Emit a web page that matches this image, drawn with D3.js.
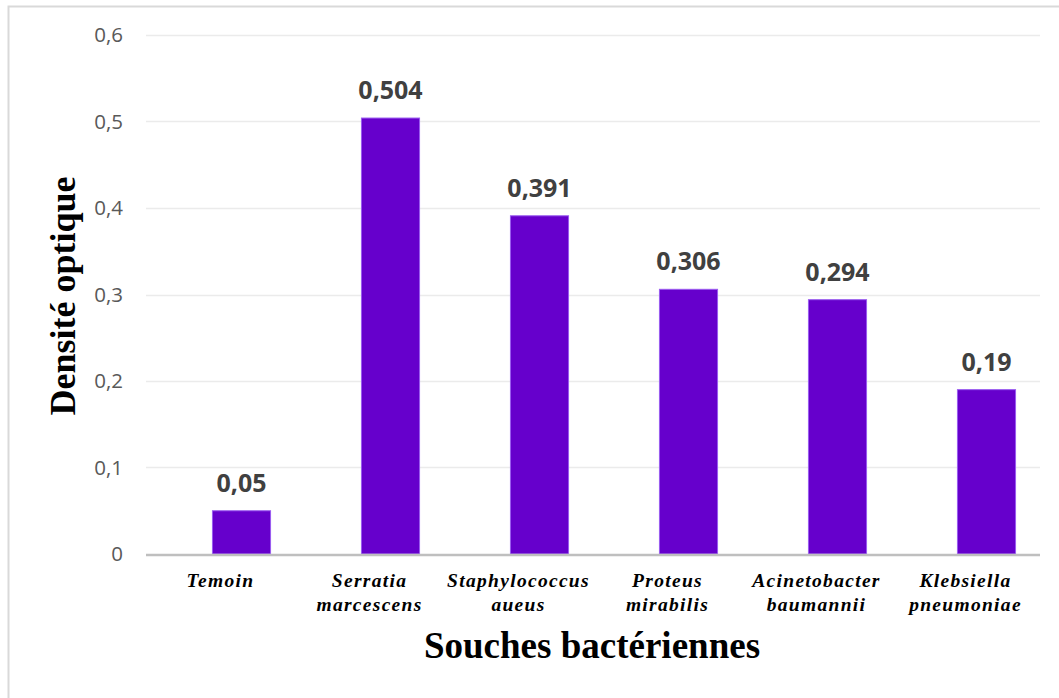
<!DOCTYPE html>
<html>
<head>
<meta charset="utf-8">
<script src="https://cdn.jsdelivr.net/npm/d3@7"></script>
<style>
    body { margin: 0; background: white; }
</style>
</head>
<body>
<div id="chart"></div>
<script>
const categories = [
    ["Temoin"],
    ["Serratia", "marcescens"],
    ["Staphylococcus", "aueus"],
    ["Proteus", "mirabilis"],
    ["Acinetobacter", "baumannii"],
    ["Klebsiella", "pneumoniae"]
];
const values = [0.05, 0.504, 0.391, 0.306, 0.294, 0.19];
const valueLabels = ["0,05", "0,504", "0,391", "0,306", "0,294", "0,19"];
const yTicks = [0, 0.1, 0.2, 0.3, 0.4, 0.5, 0.6];

const width = 1059, height = 698;
const plotLeft = 146, plotRight = 1040, plotTop = 35, plotBottom = 554;
const barShift = 21;

const svg = d3.select("#chart").append("svg")
    .attr("width", width)
    .attr("height", height);

// chart frame (only top/left edges fall inside the picture)
svg.append("rect")
    .attr("x", 8.5).attr("y", 6.5)
    .attr("width", width).attr("height", height)
    .attr("fill", "white")
    .attr("stroke", "#d9d9d9")
    .attr("stroke-width", 2);

// category bands along the axis
const x = d3.scaleBand()
    .domain(d3.range(categories.length))
    .range([plotLeft, plotRight])
    .paddingInner(0.61)
    .paddingOuter(0.305);

const y = d3.scaleLinear()
    .domain([0, 0.6])
    .range([plotBottom, plotTop]);

// gridlines
svg.append("g")
    .selectAll("line")
    .data(yTicks.filter(d => d > 0))
    .join("line")
    .attr("x1", plotLeft).attr("x2", plotRight)
    .attr("y1", d => Math.round(y(d)) + 0.5).attr("y2", d => Math.round(y(d)) + 0.5)
    .attr("stroke", "#ebebeb")
    .attr("stroke-width", 1.5);

// y axis labels
const yAxis = d3.axisLeft(y)
    .tickValues(yTicks)
    .tickSize(0)
    .tickPadding(23)
    .tickFormat(d => d === 0 ? "0" : d3.format(".1f")(d).replace(".", ","));

svg.append("g")
    .attr("transform", "translate(" + plotLeft + ",0)")
    .call(yAxis)
    .call(g => g.select(".domain").remove())
    .selectAll("text")
    .attr("font-family", "'Open Sans', sans-serif")
    .attr("font-size", "20.5px")
    .attr("fill", "#595959");

// bars (sit a little right of their category centre, as in the original)
svg.append("g")
    .selectAll("rect")
    .data(values)
    .join("rect")
    .attr("x", (d, i) => x(i) + barShift)
    .attr("y", d => y(d))
    .attr("width", x.bandwidth())
    .attr("height", d => y(0) - y(d))
    .attr("fill", "#6600cc")
    .attr("stroke", "#9a5cf0")
    .attr("stroke-width", 1);

// value labels
svg.append("g")
    .selectAll("text")
    .data(values)
    .join("text")
    .attr("x", (d, i) => x(i) + barShift + x.bandwidth() / 2)
    .attr("y", d => y(d) - 19)
    .attr("text-anchor", "middle")
    .attr("font-family", "'Open Sans', sans-serif")
    .attr("font-weight", "bold")
    .attr("font-size", "25px")
    .attr("fill", "#404040")
    .text((d, i) => valueLabels[i]);

// x axis line
svg.append("line")
    .attr("x1", plotLeft).attr("x2", plotRight)
    .attr("y1", y(0) + 1).attr("y2", y(0) + 1)
    .attr("stroke", "#bfbfbf")
    .attr("stroke-width", 2.5);

// category labels
svg.append("g")
    .selectAll("text")
    .data(categories)
    .join("text")
    .attr("text-anchor", "middle")
    .attr("font-family", "'Liberation Serif', 'Times New Roman', serif")
    .attr("font-weight", "bold")
    .attr("font-style", "italic")
    .attr("font-size", "19.5px")
    .attr("letter-spacing", "1.3px")
    .attr("fill", "#000")
    .each(function (lines, i) {
        const cx = x(i) + x.bandwidth() / 2;
        lines.forEach((t, j) => {
            d3.select(this).append("tspan")
                .attr("x", cx)
                .attr("y", y(0) + 33 + j * 24)
                .text(t);
        });
    });

// axis titles
svg.append("text")
    .attr("x", 592)
    .attr("y", 658)
    .attr("text-anchor", "middle")
    .attr("font-family", "'Liberation Serif', 'Times New Roman', serif")
    .attr("font-weight", "bold")
    .attr("font-size", "37px")
    .attr("fill", "#000")
    .text("Souches bactériennes");

svg.append("text")
    .attr("transform", "translate(75,296) rotate(-90)")
    .attr("text-anchor", "middle")
    .attr("font-family", "'Liberation Serif', 'Times New Roman', serif")
    .attr("font-weight", "bold")
    .attr("font-size", "36px")
    .attr("fill", "#000")
    .text("Densité optique");
</script>
</body>
</html>
